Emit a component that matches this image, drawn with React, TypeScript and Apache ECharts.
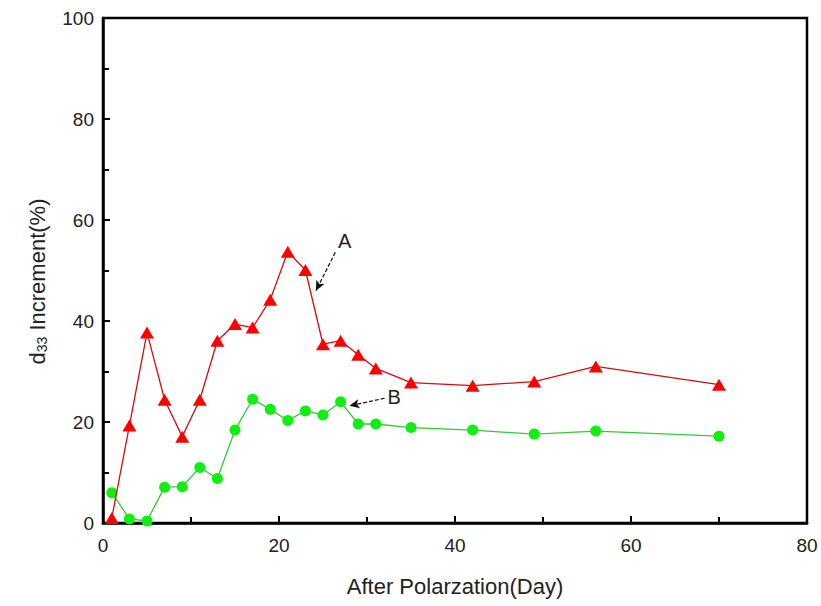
import React, { useEffect, useRef } from "react";
import * as echarts from "echarts";

const daysA = [1, 3, 5, 7, 9, 11, 13, 15, 17, 19, 21, 23, 25, 27, 29, 31, 35, 42, 49, 56, 70];
const valuesA = [1, 19.3, 37.7, 24.4, 17.1, 24.4, 36.1, 39.4, 38.7, 44.2, 53.7, 50.1, 35.4, 36.1, 33.3, 30.6, 27.8, 27.2, 28.0, 31.0, 27.4];
const daysB = [1, 3, 5, 7, 9, 11, 13, 15, 17, 19, 21, 23, 25, 27, 29, 31, 35, 42, 49, 56, 70];
const valuesB = [6.0, 0.8, 0.4, 7.1, 7.2, 11.0, 8.8, 18.4, 24.5, 22.5, 20.3, 22.2, 21.4, 24.0, 19.6, 19.6, 18.9, 18.4, 17.6, 18.2, 17.2];

// annotation arrows: [startX, startY, endX, endY] in data units
const arrowA = [26.4, 53.6, 24.2, 46.0];
const arrowB = [32.0, 24.7, 28.0, 23.2];
const labelA = "A";
const labelB = "B";

const xTicks = [0, 20, 40, 60, 80];
const yTicks = [0, 20, 40, 60, 80, 100];

export default function App() {
  const ref = useRef<HTMLDivElement>(null);
  useEffect(() => {
    if (!ref.current) return;
    const chart = echarts.init(ref.current, undefined, { renderer: "svg" });
    const font = "'Liberation Sans', Arial, sans-serif";
    const arrowLine = (a: number[], label: string, pos: string, offset: number[]) => ({
      silent: true,
      symbol: ["none", "arrow"],
      symbolSize: [7, 10],
      lineStyle: { color: "#111", type: [4, 2], width: 1.2 },
      label: {
        show: true,
        position: pos,
        formatter: label,
        color: "#222",
        fontSize: 20,
        fontFamily: font,
        offset,
      },
      data: [[{ coord: [a[0], a[1]] }, { coord: [a[2], a[3]] }]],
    });
    chart.setOption({
      animation: false,
      backgroundColor: "#fff",
      grid: {
        left: 103,
        right: 14,
        top: 18,
        bottom: 83,
        show: true,
        borderColor: "#000",
        borderWidth: 2.5,
        outerBounds: { left: 0, right: 0, top: 0, bottom: 0 },
      },
      xAxis: {
        type: "value",
        min: 0,
        max: 80,
        interval: 20,
        name: "After Polarzation(Day)",
        nameLocation: "middle",
        nameGap: 52,
        nameTextStyle: { fontSize: 22, color: "#222", fontFamily: font },
        axisLine: { show: true, lineStyle: { color: "#000", width: 2.5 } },
        axisTick: { show: true, inside: true, length: 7, lineStyle: { color: "#000", width: 2 } },
        minorTick: { show: true, splitNumber: 2, length: 6, lineStyle: { color: "#000", width: 2 } },
        axisLabel: {
          color: "#222",
          fontSize: 19,
          fontFamily: font,
          margin: 13,
          formatter: (v: number) => (xTicks.includes(v) ? String(v) : ""),
        },
        splitLine: { show: false },
      },
      yAxis: {
        type: "value",
        min: 0,
        max: 100,
        interval: 20,
        name: "{n|d}{s|33}{n| Increment(%)}",
        nameLocation: "middle",
        nameGap: 54,
        nameRotate: 90,
        nameTextStyle: {
          padding: [0, 22, 0, 0],
          rich: {
            n: { fontSize: 22, color: "#222", fontFamily: font },
            s: { fontSize: 14, color: "#222", fontFamily: font, padding: [10, 0, 0, 0] },
          },
        },
        axisLine: { show: true, lineStyle: { color: "#000", width: 2.5 } },
        axisTick: { show: true, inside: true, length: 7, lineStyle: { color: "#000", width: 2 } },
        minorTick: { show: true, splitNumber: 2, length: 6, lineStyle: { color: "#000", width: 2 } },
        axisLabel: {
          color: "#222",
          fontSize: 19,
          fontFamily: font,
          margin: 9,
          formatter: (v: number) => (yTicks.includes(v) ? String(v) : ""),
        },
        splitLine: { show: false },
      },
      series: [
        {
          name: "A",
          type: "line",
          data: daysA.map((d, i) => [d, valuesA[i]]),
          symbol: "triangle",
          symbolSize: [14, 12],
          itemStyle: { color: "#ff0000" },
          lineStyle: { color: "#d01010", width: 1.3 },
          z: 3,
          markLine: arrowLine(arrowA, labelA, "start", [7, 3]),
        },
        {
          name: "B",
          type: "line",
          data: daysB.map((d, i) => [d, valuesB[i]]),
          symbol: "circle",
          symbolSize: 11,
          itemStyle: { color: "#11ee11" },
          lineStyle: { color: "#33cc33", width: 1.3 },
          z: 2,
          markLine: arrowLine(arrowB, labelB, "start", [-2, 0]),
        },
      ],
    });
    return () => chart.dispose();
  }, []);
  return (
    <div
      ref={ref}
      style={{ position: "absolute", left: 0, top: 0, width: 821, height: 606 }}
    />
  );
}
